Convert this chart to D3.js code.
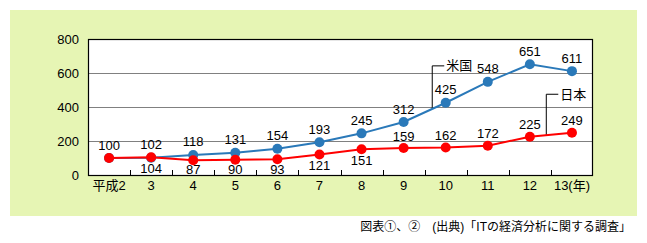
<!DOCTYPE html>
<html>
<head>
<meta charset="utf-8">
<script src="https://cdn.jsdelivr.net/npm/d3@7"></script>
<style>
  body { margin: 0; background: #fff; }
  svg text { font-family: "Liberation Sans", "Noto Sans CJK JP", sans-serif; }
</style>
</head>
<body>
<svg id="chart"></svg>
<script>
// data
var years = ["平成2", "3", "4", "5", "6", "7", "8", "9", "10", "11", "12", "13(年)"];
var usValues = [100, 102, 118, 131, 154, 193, 245, 312, 425, 548, 651, 611];
var jpValues = [100, 104, 87, 90, 93, 121, 151, 159, 162, 172, 225, 249];
var yTicks = [0, 200, 400, 600, 800];

var svgWidth = 647, svgHeight = 243;
var margin = { top: 39, right: 54, bottom: 68, left: 88 };
var chartWidth = svgWidth - margin.left - margin.right;
var chartHeight = svgHeight - margin.top - margin.bottom;

var svg = d3.select("#chart")
  .attr("width", svgWidth)
  .attr("height", svgHeight);

// light green panel
svg.append("rect")
  .attr("x", 10).attr("y", 10)
  .attr("width", 627).attr("height", 206)
  .attr("fill", "#e6f5b4");

var chart = svg.append("g")
  .attr("transform", "translate(" + margin.left + "," + margin.top + ")");

var xScale = d3.scaleBand()
  .domain(years)
  .range([0, chartWidth]);

var yScale = d3.scaleLinear()
  .domain([0, 800])
  .range([chartHeight, 0]);

function cx(i) { return xScale(years[i]) + xScale.bandwidth() / 2; }

chart.append("rect")
  .attr("width", chartWidth)
  .attr("height", chartHeight)
  .attr("fill", "#fff");

// grid lines
chart.selectAll(".grid")
  .data(yTicks.filter(function (d) { return d > 0 && d < 800; }))
  .enter()
  .append("line")
  .attr("x1", 0).attr("x2", chartWidth)
  .attr("y1", function (d) { return Math.round(yScale(d)) + 0.5; })
  .attr("y2", function (d) { return Math.round(yScale(d)) + 0.5; })
  .attr("stroke", "#808080")
  .attr("stroke-width", 1);

// y axis labels
var yAxis = chart.append("g")
  .call(d3.axisLeft(yScale).tickValues(yTicks).tickSize(0).tickPadding(9));
yAxis.select(".domain").remove();
yAxis.selectAll("text")
  .style("font-size", "13px")
  .attr("fill", "#000");

// x axis labels and inner ticks
var xAxis = chart.append("g")
  .attr("transform", "translate(0," + chartHeight + ")")
  .call(d3.axisBottom(xScale).tickSize(0).tickPadding(6));
xAxis.select(".domain").remove();
xAxis.selectAll("text")
  .style("font-size", "13px")
  .attr("fill", "#000");
svg.selectAll("g.tick").attr("font-family", null);

chart.selectAll(".xtick")
  .data(years.slice(1))
  .enter()
  .append("line")
  .attr("x1", function (d) { return Math.round(xScale(d)) + 0.5; })
  .attr("x2", function (d) { return Math.round(xScale(d)) + 0.5; })
  .attr("y1", chartHeight)
  .attr("y2", chartHeight - 5)
  .attr("stroke", "#000");

// frame
chart.append("rect")
  .attr("x", 0.5).attr("y", 0.5)
  .attr("width", chartWidth - 1)
  .attr("height", chartHeight)
  .attr("fill", "none")
  .attr("stroke", "#000")
  .attr("stroke-width", 1.2);

var line = d3.line()
  .x(function (d, i) { return cx(i); })
  .y(function (d) { return yScale(d); });

// callout lines for series names
function callout(series, i0, frac, topY, label) {
  var x = cx(i0) + (cx(i0 + 1) - cx(i0)) * frac;
  var y = yScale(series[i0] + (series[i0 + 1] - series[i0]) * frac);
  var yTop = yScale(topY);
  chart.append("path")
    .attr("d", "M" + x + "," + y + "V" + yTop + "H" + (x + 12))
    .attr("fill", "none")
    .attr("stroke", "#000");
  chart.append("text")
    .attr("x", x + 14)
    .attr("y", yTop)
    .attr("dy", "0.35em")
    .style("font-size", "13px")
    .text(label);
}
callout(usValues, 7, 0.68, 642, "米国");
callout(jpValues, 10, 0.39, 475, "日本");

function drawSeries(values, color) {
  chart.append("path")
    .datum(values)
    .attr("d", line)
    .attr("fill", "none")
    .attr("stroke", color)
    .attr("stroke-width", 2);
  chart.selectAll(null)
    .data(values)
    .enter()
    .append("circle")
    .attr("cx", function (d, i) { return cx(i); })
    .attr("cy", function (d) { return yScale(d); })
    .attr("r", 5)
    .attr("fill", color);
}
drawSeries(usValues, "#2a79b9");
drawSeries(jpValues, "#ff0000");

// value labels
chart.selectAll(".uslabel")
  .data(usValues)
  .enter()
  .append("text")
  .attr("x", function (d, i) { return cx(i); })
  .attr("y", function (d) { return yScale(d) - 13; })
  .attr("dy", "0.35em")
  .attr("text-anchor", "middle")
  .style("font-size", "13px")
  .text(function (d) { return d; });

chart.selectAll(".jplabel")
  .data(jpValues)
  .enter()
  .filter(function (d, i) { return i > 0; })
  .append("text")
  .attr("x", function (d, i) { return cx(i + 1); })
  .attr("y", function (d, i) { return i + 1 < 7 ? Math.min(yScale(d) + 11, chartHeight - 6) : yScale(d) - 12; })
  .attr("dy", "0.35em")
  .attr("text-anchor", "middle")
  .style("font-size", "13px")
  .text(function (d) { return d; });

// source note
svg.append("text")
  .attr("x", 631)
  .attr("y", 227)
  .attr("dy", "0.35em")
  .attr("text-anchor", "end")
  .style("font-size", "12px")
  .text("図表①、②　(出典)「ITの経済分析に関する調査」");
</script>
</body>
</html>
